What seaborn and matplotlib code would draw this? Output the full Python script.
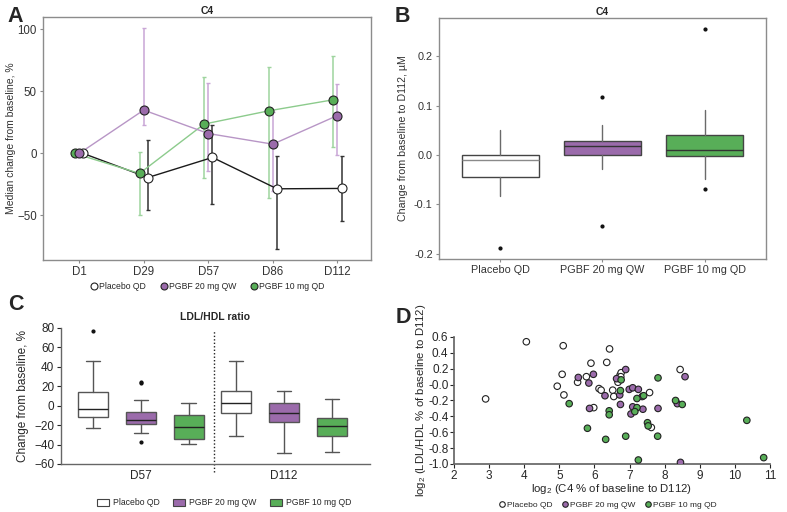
import numpy as np
import pandas as pd
import seaborn as sns
import matplotlib.pyplot as plt
from matplotlib.lines import Line2D
from matplotlib.patches import Patch

# ---- data ----
groups = ["Placebo QD", "PGBF 20 mg QW", "PGBF 10 mg QD"]
days = ["D1", "D29", "D57", "D86", "D112"]

# panel A: median % change with error range (upper / lower)
a_placebo = [0, -19.4, -3.2, -28.5, -28.2]
a_placebo_hi = [0, 10.8, 22.6, -2.4, -2.4]
a_placebo_lo = [0, -45.4, -40.9, -77.0, -54.6]
a_qw = [0, 35.0, 16.1, 7.5, 30.6]
a_qw_hi = [0, 101.0, 56.5, 33.6, 56.0]
a_qw_lo = [0, 22.8, -14.0, -30.0, -1.0]
a_qd = [0, -16.1, 23.7, 34.4, 43.3]
a_qd_hi = [0, 1.0, 62.0, 69.4, 79.0]
a_qd_lo = [0, -50.0, -20.0, -35.7, 5.6]

# panel B: box stats (whislo, q1, med, q3, whishi), fliers
b_stats = [
    [-0.083, -0.045, -0.011, 0.0, 0.050],
    [-0.029, 0.0, 0.018, 0.029, 0.061],
    [-0.048, -0.002, 0.010, 0.040, 0.092],
]
b_fliers = [[-0.189], [0.117, -0.145], [0.256, -0.069]]

# panel C: LDL/HDL box stats per visit
c_visits = ["D57", "D112"]
c_stats = {
    "D57": [
        [-22.6, -12.0, -3.1, 14.0, 46.2],
        [-27.7, -18.8, -15.0, -6.5, 5.5],
        [-39.3, -33.8, -21.9, -9.6, 2.7],
    ],
    "D112": [
        [-30.8, -7.2, 2.7, 15.4, 46.2],
        [-48.5, -16.8, -7.9, 2.7, 15.4],
        [-47.5, -31.5, -20.5, -12.3, 6.8],
    ],
}
c_fliers = {
    "D57": [[76.9], [24.3, 23.5, -37.6], []],
    "D112": [[], [], []],
}

# panel D: scatter
d_placebo_x = [2.90, 4.06, 5.11, 5.08, 4.94, 5.13, 5.52, 5.77, 5.90, 5.98, 6.13, 6.19,
               6.35, 6.43, 6.52, 6.55, 6.67, 6.73, 6.76, 6.75, 7.57, 7.62, 8.44]
d_placebo_y = [-0.18, 0.54, 0.49, 0.13, -0.02, -0.13, 0.03, 0.10, 0.27, -0.29, -0.05, -0.07,
               0.28, 0.45, -0.07, -0.15, 0.03, 0.12, 0.15, 0.10, -0.10, -0.54, 0.19]
d_qw_x = [5.54, 5.97, 5.84, 5.86, 6.30, 6.63, 6.89, 6.72, 6.74, 6.99, 7.09, 7.09,
          7.04, 7.25, 7.36, 7.38, 7.81, 8.36, 8.58, 8.45]
d_qw_y = [0.09, 0.13, 0.02, -0.30, -0.14, 0.075, 0.19, -0.13, -0.25, -0.06, -0.04, -0.28,
          -0.37, -0.06, -0.15, -0.31, -0.30, -0.24, 0.10, -0.98]
d_qd_x = [5.28, 5.80, 6.42, 6.42, 6.32, 6.74, 6.76, 7.21, 7.21, 7.15, 7.40, 7.25,
          6.89, 7.51, 7.53, 7.81, 7.80, 8.31, 8.50, 10.34, 10.82]
d_qd_y = [-0.24, -0.55, -0.33, -0.38, -0.69, -0.075, 0.06, -0.175, -0.29, -0.34, -0.14, -0.95,
          -0.65, -0.48, -0.52, 0.085, -0.65, -0.20, -0.25, -0.45, -0.92]

# ---- style ----
sns.set_theme(style="ticks")
plt.rcParams["font.family"] = ["Liberation Sans", "DejaVu Sans"]
plt.rcParams["mathtext.fontset"] = "custom"
plt.rcParams["mathtext.rm"] = "Liberation Sans"
plt.rcParams["mathtext.it"] = "Liberation Sans"

face = ["white", "#9B6BAB", "#58AE58"]
light = ["#333333", "#C9A6D6", "#9ED49E"]
line_col = ["#1a1a1a", "#B896C6", "#8CCB8C"]
frame = "#8c8c8c"

fig = plt.figure(figsize=(7.87, 5.12), dpi=100)
axA = fig.add_axes([0.0546, 0.492, 0.4168, 0.4746])
axB = fig.add_axes([0.5578, 0.4941, 0.4155, 0.4707])
axC = fig.add_axes([0.0771, 0.0938, 0.393, 0.2656])
axD = fig.add_axes([0.5769, 0.0938, 0.4015, 0.248])

# ---- A ----
rows = []
series = [(a_placebo, a_placebo_hi, a_placebo_lo),
          (a_qw, a_qw_hi, a_qw_lo),
          (a_qd, a_qd_hi, a_qd_lo)]
dodge = [0.065, 0.0, -0.065]
for g, (med, hi, lo), off in zip(groups, series, dodge):
    for i, d in enumerate(days):
        rows.append({"group": g, "day": d, "x": i + off, "median": med[i],
                     "hi": hi[i], "lo": lo[i]})
dfA = pd.DataFrame(rows)

for k in [0, 2, 1]:
    g = groups[k]
    sub = dfA[dfA["group"] == g]
    ax_err = np.vstack([sub["median"] - sub["lo"], sub["hi"] - sub["median"]])
    axA.errorbar(sub["x"], sub["median"], yerr=ax_err, fmt="none", ecolor=light[k],
                 elinewidth=1.1, capsize=1.6, capthick=1.0, zorder=2)
for k in [0, 2, 1]:
    sub = dfA[dfA["group"] == groups[k]]
    sns.lineplot(data=sub, x="x", y="median", ax=axA, color=line_col[k], lw=1.0,
                 sort=False, zorder=3, legend=False)
for k in [0, 2, 1]:
    sub = dfA[dfA["group"] == groups[k]]
    sns.scatterplot(data=sub, x="x", y="median", ax=axA, color=face[k], s=42,
                    edgecolor="#222222", linewidth=0.8, zorder=4, legend=False)

axA.set_xlim(-0.56, 4.52)
axA.set_ylim(-86, 110)
axA.set_xticks(range(len(days)))
axA.set_xticklabels(days)
axA.set_yticks([-50, 0, 50, 100])
axA.set_xlabel("")
axA.set_ylabel("Median change from baseline, %", fontsize=7.5, color="#333333", labelpad=1)
axA.set_title("C4", fontsize=7.5, fontweight="bold", pad=2)

# ---- B ----
def make_stats(vals, fliers):
    lo, q1, med, q3, hi = vals
    return {"whislo": lo, "q1": q1, "med": med, "q3": q3, "whishi": hi, "fliers": fliers}

bx = axB.bxp([make_stats(v, f) for v, f in zip(b_stats, b_fliers)],
             positions=[0, 1, 2], widths=0.75, patch_artist=True,
             flierprops=dict(marker="o", markersize=2, markerfacecolor="#111111",
                             markeredgecolor="#111111"),
             whiskerprops=dict(color="#6a6a6a", lw=1.0),
             capprops=dict(lw=0),
             medianprops=dict(color="#333333", lw=1.0))
for patch, c in zip(bx["boxes"], face):
    patch.set_facecolor(c)
    patch.set_edgecolor("#444444")
    patch.set_linewidth(1.0)
bx["medians"][0].set_color("#8a8a8a")
axB.set_xlim(-0.6, 2.6)
axB.set_ylim(-0.211, 0.278)
axB.set_xticks([0, 1, 2])
axB.set_xticklabels(groups)
axB.set_yticks([-0.2, -0.1, 0.0, 0.1, 0.2])
axB.set_yticklabels(["-0.2", "-0.1", "0.0", "0.1", "0.2"])
axB.set_ylabel("Change from baseline to D112, µM", fontsize=7.7, color="#333333")
axB.set_title("C4", fontsize=7.5, fontweight="bold", pad=2)

for ax, fs in ((axA, 8.3), (axB, 7.8)):
    for s in ax.spines.values():
        s.set_color(frame)
        s.set_linewidth(1.0)
    ax.tick_params(colors=frame, labelcolor="#333333", labelsize=fs, length=2.5, width=0.8, pad=2)

# ---- C ----
offs = [-1 / 3, 0, 1 / 3]
for vi, v in enumerate(c_visits):
    st = [make_stats(s, f) for s, f in zip(c_stats[v], c_fliers[v])]
    bc = axC.bxp(st, positions=[vi + o for o in offs], widths=0.21, patch_artist=True,
                 flierprops=dict(marker="o", markersize=2, markerfacecolor="#111111",
                                 markeredgecolor="#111111"),
                 whiskerprops=dict(color="#555555", lw=1.0),
                 capprops=dict(color="#555555", lw=1.0), capwidths=0.1,
                 medianprops=dict(color="#222222", lw=1.0))
    for patch, c in zip(bc["boxes"], face):
        patch.set_facecolor(c)
        patch.set_edgecolor("#555555")
        patch.set_linewidth(1.0)
axC.axvline(0.51, ymin=-0.06, ymax=0.98, color="#222222", ls=(0, (1, 1.5)), lw=1.0, clip_on=False)
axC.set_xlim(-0.56, 1.6)
axC.set_ylim(-60, 80)
axC.set_yticks(range(-60, 81, 20))
axC.set_xticks([0, 1])
axC.set_xticklabels(c_visits)
axC.tick_params(axis="x", length=0, labelsize=8.5, pad=4)
axC.tick_params(axis="y", length=3, width=0.8, labelsize=8.5, pad=1.5)
axC.set_ylabel("Change from baseline, %", fontsize=8.5)
axC.set_title("LDL/HDL ratio", fontsize=7.5, fontweight="bold", pad=6)
sns.despine(ax=axC)
for s in ("left", "bottom"):
    axC.spines[s].set_color("#666666")
    axC.spines[s].set_linewidth(1.0)

# ---- D ----
dfD = pd.concat([
    pd.DataFrame({"x": d_placebo_x, "y": d_placebo_y, "group": groups[0]}),
    pd.DataFrame({"x": d_qw_x, "y": d_qw_y, "group": groups[1]}),
    pd.DataFrame({"x": d_qd_x, "y": d_qd_y, "group": groups[2]}),
])
sns.scatterplot(data=dfD, x="x", y="y", hue="group", palette=dict(zip(groups, face)),
                ax=axD, s=22, edgecolor="#222222", linewidth=0.8, legend=False, zorder=3)
axD.set_xlim(2, 11)
axD.set_ylim(-1.0, 0.6)
axD.set_xticks(range(2, 12))
axD.set_yticks(np.round(np.arange(-1.0, 0.61, 0.2), 1))
axD.set_yticklabels([f"{t:.1f}" for t in np.arange(-1.0, 0.61, 0.2)])
axD.tick_params(labelsize=8.5, length=3, width=0.8, pad=1)
axD.set_xlabel("log$_2$ (C4 % of baseline to D112)", fontsize=8.2, labelpad=0)
axD.set_ylabel("log$_2$ (LDL/HDL % of baseline to D112)", fontsize=8.2, labelpad=0)
sns.despine(ax=axD)
for s in ("left", "bottom"):
    axD.spines[s].set_color("#666666")

# ---- legends ----
def circle_handles(ms):
    return [Line2D([], [], marker="o", ls="none", markersize=ms, markerfacecolor=c,
                   markeredgecolor="#222222", markeredgewidth=0.8) for c in face]

fig.legend(circle_handles(5), groups, loc="center", bbox_to_anchor=(0.263, 0.441), ncol=3,
           frameon=False, fontsize=6.2, handletextpad=0.1, columnspacing=1.6, handlelength=1)
sq = [Patch(facecolor=c, edgecolor="#444444", linewidth=0.8) for c in face]
fig.legend(sq, groups, loc="center", bbox_to_anchor=(0.285, 0.018), ncol=3,
           frameon=False, fontsize=6.2, handletextpad=0.5, columnspacing=1.5,
           handlelength=1.4, handleheight=0.9)
fig.legend(circle_handles(4), groups, loc="center", bbox_to_anchor=(0.772, 0.014), ncol=3,
           frameon=False, fontsize=6, handletextpad=0.1, columnspacing=1.0, handlelength=1)

# panel letters
for lab, x, y in [("A", 0.010, 0.967), ("B", 0.502, 0.967), ("C", 0.010, 0.405), ("D", 0.503, 0.380)]:
    fig.text(x, y, lab, fontsize=15.5, fontweight="bold", va="center", ha="left")

fig.savefig("out.png", dpi=100)
